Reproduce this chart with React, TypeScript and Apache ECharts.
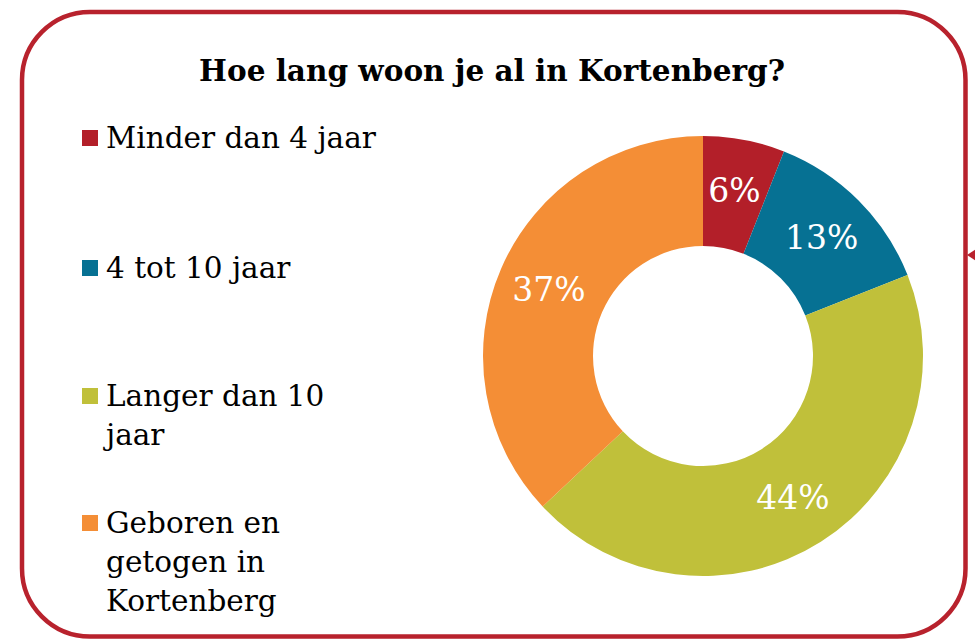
import React, { useEffect, useRef } from "react";
import * as echarts from "echarts";

const TITLE = "Hoe lang woon je al in Kortenberg?";
const categories = ["Minder dan 4 jaar", "4 tot 10 jaar", "Langer dan 10 jaar", "Geboren en getogen in Kortenberg"];
const legendLines = [["Minder dan 4 jaar"], ["4 tot 10 jaar"], ["Langer dan 10", "jaar"], ["Geboren en", "getogen in", "Kortenberg"]];
const values = [6, 13, 44, 37];
const colors = ["#B31F29", "#067193", "#C0C03A", "#F48E36"];

const SERIF = "'DejaVu Serif', serif";
const LINE_H = 39;
const legendTops = [138, 268, 396, 523];

export default function App() {
  const ref = useRef<HTMLDivElement>(null);
  useEffect(() => {
    document.body.style.margin = "0";
    const chart = echarts.init(ref.current!, null, { renderer: "svg" });
    const legends = categories.map((name, i) => ({
      orient: "vertical",
      left: 77,
      top: legendTops[i] - LINE_H / 2,
      padding: 0,
      itemWidth: 0,
      itemHeight: 0,
      selectedMode: false,
      data: [name],
      formatter: () =>
        legendLines[i]
          .map((ln, k) => (k === 0 ? `{m|}{t|${ln}}` : `{sp|}{t|${ln}}`))
          .join("\n"),
      textStyle: {
        color: "#000",
        fontFamily: SERIF,
        fontSize: 29.5,
        lineHeight: LINE_H,
        rich: {
          m: { width: 16, height: 16, backgroundColor: colors[i] },
          sp: { width: 16, height: 16 },
          t: { fontFamily: SERIF, fontSize: 29.5, lineHeight: LINE_H, color: "#000", padding: [0, 0, 0, 8] },
        },
      },
    }));
    chart.setOption({
      animation: false,
      backgroundColor: "#fff",
      color: colors,
      legend: legends,
      graphic: [
        {
          type: "rect",
          shape: { x: 22, y: 12, width: 943.5, height: 624.5, r: 68 },
          style: { fill: "none", stroke: "#B8222D", lineWidth: 4.5 },
          silent: true,
        },
        {
          type: "polygon",
          shape: { points: [[967, 255], [976, 249], [976, 261]] },
          style: { fill: "#B8222D" },
          silent: true,
        },
        {
          type: "text",
          x: 492,
          y: 70,
          style: {
            text: TITLE,
            fill: "#000",
            font: `bold 29.5px ${SERIF}`,
            align: "center",
            verticalAlign: "middle",
          },
          silent: true,
        },
      ],
      series: [
        {
          type: "pie",
          center: [703, 356],
          radius: [110, 220],
          startAngle: 90,
          clockwise: true,
          silent: true,
          emphasis: { disabled: true },
          label: {
            show: true,
            position: "inside",
            formatter: "{c}%",
            color: "#fff",
            fontFamily: SERIF,
            fontSize: 33,
          },
          labelLine: { show: false },
          itemStyle: { borderWidth: 0 },
          data: categories.map((name, i) => ({ name, value: values[i] })),
        },
      ],
    });
    return () => chart.dispose();
  }, []);
  return <div ref={ref} style={{ width: 975, height: 639 }} />;
}
